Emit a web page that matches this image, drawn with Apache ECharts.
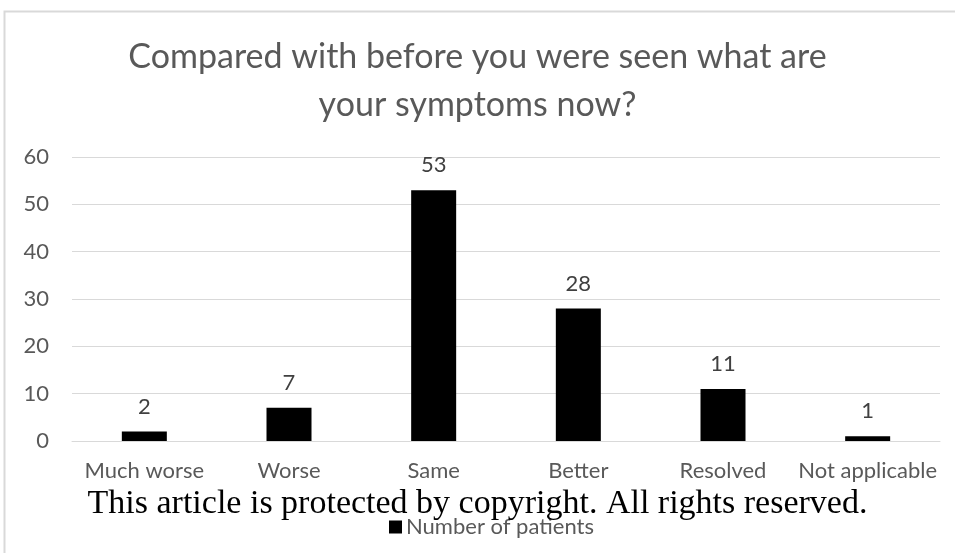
<!DOCTYPE html>
<html>
<head>
<meta charset="utf-8">
<script src="https://cdn.jsdelivr.net/npm/echarts@6/dist/echarts.min.js"></script>
<style>
  html, body { margin: 0; padding: 0; background: #fff; }
  #main { width: 955px; height: 553px; }
</style>
</head>
<body>
<div id="main"></div>
<script>
var categories = ['Much worse', 'Worse', 'Same', 'Better', 'Resolved', 'Not applicable'];
var patients = [2, 7, 53, 28, 11, 1];
var yTicks = [0, 10, 20, 30, 40, 50, 60];

var myChart = echarts.init(document.getElementById('main'));

var option = {
    backgroundColor: '#ffffff',
    animation: false,
    textStyle: { fontFamily: 'Lato' },
    title: {
        text: 'Compared with before you were seen what are\nyour symptoms now?',
        left: 'center',
        top: 28,
        textStyle: {
            color: '#595959',
            fontSize: 34,
            fontWeight: 'normal',
            lineHeight: 48,
            fontFamily: 'Lato'
        }
    },
    legend: {
        left: 384,
        top: 511,
        itemWidth: 13,
        itemHeight: 13,
        itemGap: 5,
        icon: 'rect',
        textStyle: { color: '#595959', fontSize: 22, fontFamily: 'Lato', padding: [0, 0, 0, -1] },
        data: ['Number of patients']
    },
    grid: {
        left: 72,
        right: 15,
        top: 157,
        bottom: 112
    },
    xAxis: {
        type: 'category',
        data: categories,
        axisLine: { lineStyle: { color: '#d9d9d9' } },
        axisTick: { show: false },
        axisLabel: { color: '#595959', fontSize: 22, margin: 19, interval: 0 }
    },
    yAxis: {
        type: 'value',
        min: yTicks[0],
        max: yTicks[yTicks.length - 1],
        interval: 10,
        axisLine: { show: false },
        axisTick: { show: false },
        axisLabel: { color: '#595959', fontSize: 22, margin: 23 },
        splitLine: { lineStyle: { color: '#d9d9d9' } }
    },
    series: [{
        name: 'Number of patients',
        type: 'bar',
        data: patients,
        barWidth: 45,
        itemStyle: { color: '#000000' },
        label: {
            show: true,
            position: 'top',
            distance: 14,
            color: '#404040',
            fontSize: 22
        }
    }],
    graphic: [{
        type: 'rect',
        shape: { x: 4.5, y: 11.5, width: 1000, height: 600 },
        style: { fill: 'none', stroke: '#d9d9d9', lineWidth: 2 },
        silent: true
    }, {
        type: 'text',
        left: 'center',
        top: 487,
        style: {
            text: 'This article is protected by copyright. All rights reserved.',
            fill: '#000000',
            fontSize: 34,
            fontFamily: 'Liberation Serif'
        },
        z: 100
    }]
};

myChart.setOption(option);
</script>
</body>
</html>
